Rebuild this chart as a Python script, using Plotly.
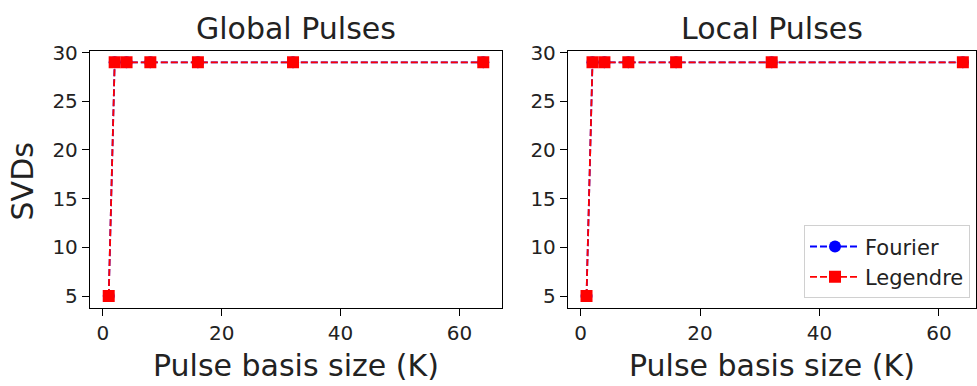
import plotly.graph_objects as go

K = [1, 2, 4, 8, 16, 32, 64]
global_fourier = [5, 29, 29, 29, 29, 29, 29]
global_legendre = [5, 29, 29, 29, 29, 29, 29]
local_fourier = [5, 29, 29, 29, 29, 29, 29]
local_legendre = [5, 29, 29, 29, 29, 29, 29]
titles = ["Global Pulses", "Local Pulses"]
x_ticks = [0, 20, 40, 60]
y_ticks = [5, 10, 15, 20, 25, 30]

W, H = 977, 386
FONT = "DejaVu Sans"

fig = go.Figure()

def add_pair(fx, fy, ly, xa, ya, show):
    fig.add_trace(go.Scatter(
        x=fx, y=fy, mode="lines+markers", name="Fourier",
        line=dict(color="blue", width=1.8, dash="7px,3px"),
        marker=dict(symbol="circle", size=12, color="blue"),
        xaxis=xa, yaxis=ya, showlegend=show))
    fig.add_trace(go.Scatter(
        x=fx, y=ly, mode="lines+markers", name="Legendre",
        line=dict(color="red", width=1.8, dash="7px,3px"),
        marker=dict(symbol="square", size=12, color="red"),
        xaxis=xa, yaxis=ya, showlegend=show))

add_pair(K, global_fourier, global_legendre, "x", "y", False)
add_pair(K, local_fourier, local_legendre, "x2", "y2", True)

ydom = [(H - 305.7) / H, (H - 41.7) / H]
xdom1 = [90 / W, 502 / W]
xdom2 = [568 / W, 976 / W]

axis_common = dict(
    showline=True, linecolor="black", linewidth=1.3, mirror=True,
    ticks="outside", ticklen=7, tickwidth=1.3, tickcolor="black",
    showgrid=False, zeroline=False,
    tickfont=dict(family=FONT, size=20, color="#222"),
)

fig.update_layout(
    width=W, height=H,
    margin=dict(l=0, r=0, t=0, b=0),
    plot_bgcolor="white", paper_bgcolor="white",
    font=dict(family=FONT, color="#222"),
    xaxis=dict(domain=xdom1, range=[-2.15, 67.15], tickvals=x_ticks, anchor="y", **axis_common),
    yaxis=dict(domain=ydom, range=[3.8, 30.2], tickvals=y_ticks, anchor="x", **axis_common),
    xaxis2=dict(domain=xdom2, range=[-2.1, 66.2], tickvals=x_ticks, anchor="y2", **axis_common),
    yaxis2=dict(domain=ydom, range=[3.8, 30.2], tickvals=y_ticks, anchor="x2", **axis_common),
    legend=dict(
        x=970 / W, y=(H - 296) / H, xanchor="right", yanchor="bottom",
        bgcolor="rgba(255,255,255,0.8)", bordercolor="#d0d0d0", borderwidth=1,
        font=dict(family=FONT, size=21, color="#222"),
        itemwidth=50, tracegroupgap=0,
    ),
    showlegend=True,
)

annotations = []
for i, t in enumerate(titles):
    dom = xdom1 if i == 0 else xdom2
    cx = (dom[0] + dom[1]) / 2
    annotations.append(dict(text=t, x=cx, y=1 - 19 / H, xref="paper", yref="paper",
                            xanchor="center", yanchor="middle", showarrow=False,
                            font=dict(family=FONT, size=30, color="#222")))
    annotations.append(dict(text="Pulse basis size (K)", x=cx, y=1 - 365 / H, xref="paper", yref="paper",
                            xanchor="center", yanchor="middle", showarrow=False,
                            font=dict(family=FONT, size=30, color="#222")))
annotations.append(dict(text="SVDs", x=22 / W, y=1 - 176 / H, xref="paper", yref="paper",
                        xanchor="center", yanchor="middle", showarrow=False, textangle=-90,
                        font=dict(family=FONT, size=30, color="#222")))
fig.update_layout(annotations=annotations)

fig.write_html("out.html")
